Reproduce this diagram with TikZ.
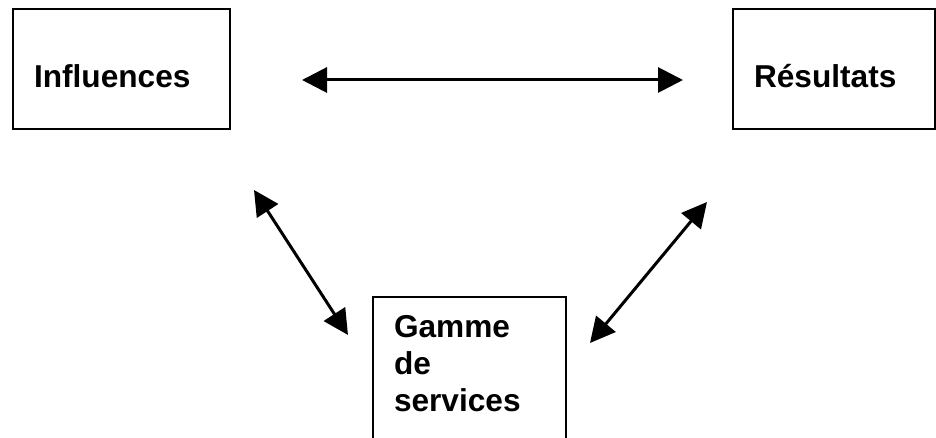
\documentclass[tikz,border=0pt]{standalone}
\usepackage{fontspec}
\setmainfont{Liberation Sans}
\usetikzlibrary{arrows.meta}

\begin{document}
\begin{tikzpicture}

		\tikzset{block/.style = {draw, line width=0.04cm, anchor=north west, align=left, inner xsep=0.42cm, inner ysep=0.42cm, font=\bfseries\fontsize{18}{21}\selectfont}}
		\tikzset{link/.style = {{Triangle[length=0.5cm,width=0.5cm]}-{Triangle[length=0.5cm,width=0.5cm]}, line width=0.06cm}}
		\useasboundingbox (0,0) rectangle (18.72,-8.76);
		% boxes
		\node[block, text width=3.5cm, minimum height=2.4cm, text height=0.76cm, text depth=0cm] (influ) at (0.24,-0.16) {Influences};
		\node[block, text width=3.2cm, minimum height=2.4cm, text height=0.76cm, text depth=0cm] (resul) at (14.64,-0.16) {Résultats};
		\node[block, text width=3.02cm, text height=0.4cm, text depth=2.5cm] (gamme) at (7.44,-5.92) {Gamme\\de\\services};

		% arrows
		\draw[link, shorten <=1.42cm, shorten >=0.98cm] ([yshift=-0.22cm]influ.east) to ([yshift=-0.22cm]resul.west);
		\draw[link] ([shift={(0.46,-1.2)}]influ.south east) to ([shift={(-0.48,-0.78)}]gamme.north west);
		\draw[link] ([shift={(-0.5,-1.44)}]resul.south west) to ([shift={(0.46,-0.94)}]gamme.north east);

\end{tikzpicture}
\end{document}
